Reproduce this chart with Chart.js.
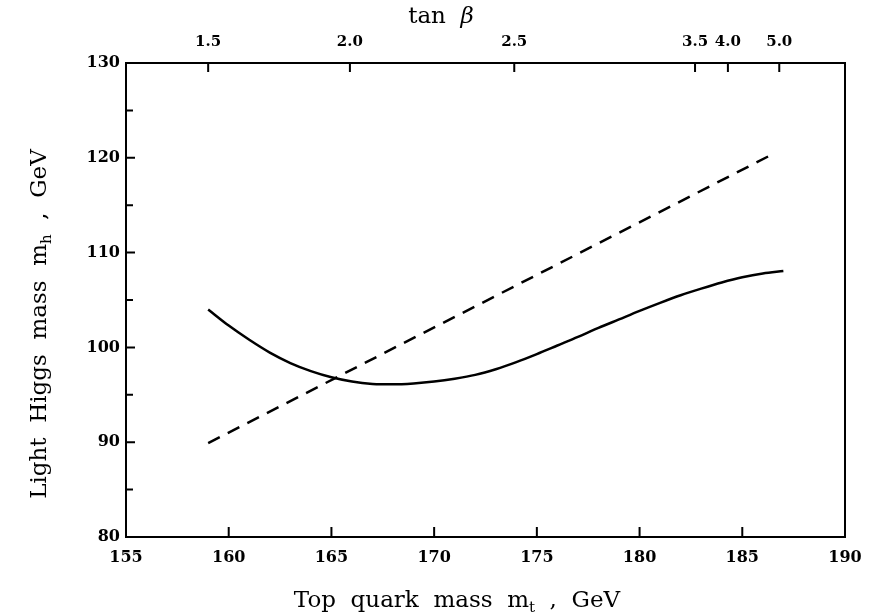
<!DOCTYPE html>
<html>
<head>
<meta charset="utf-8">
<script src="https://cdn.jsdelivr.net/npm/chart.js@4.4.0/dist/chart.umd.min.js"></script>
<style>
  body { margin: 0; background: #fff; }
  #wrap { width: 877px; height: 615px; }
</style>
</head>
<body>
<div id="wrap"><canvas id="higgsChart" width="877" height="615"></canvas></div>
<script>
// top quark mass (GeV) and light Higgs mass (GeV), solid curve
const mtSolid = [159, 160, 161, 162, 163, 164, 165, 166, 167, 168, 169, 170, 171, 172, 173,
                 174, 175, 176, 177, 178, 179, 180, 181, 182, 183, 184, 185, 186, 187];
const mhSolid = [104.0, 102.3, 100.8, 99.45, 98.35, 97.5, 96.85, 96.4, 96.15, 96.1, 96.2, 96.4, 96.7, 97.1, 97.7,
                 98.45, 99.3, 100.2, 101.1, 102.05, 102.95, 103.85, 104.7, 105.5, 106.2, 106.85, 107.4, 107.8, 108.05];
// dashed line
const mtDashed = [159, 186.4];
const mhDashed = [89.9, 120.3];
// tan beta scale on top, placed at the matching top mass
const tanBetaLabels = ['1.5', '2.0', '2.5', '3.5', '4.0', '5.0'];
const tanBetaAtMt = [159.0, 165.9, 173.9, 182.7, 184.3, 186.8];

const serif = '"DejaVu Serif", "Liberation Serif", serif';

// inward tick marks + frame box + axis titles
const frameTicks = {
    id: 'frameTicks',
    afterDraw(chart) {
        const c = chart.ctx;
        const a = chart.chartArea;
        const x = chart.scales.x, x2 = chart.scales.x2, y = chart.scales.y;
        c.save();
        c.strokeStyle = '#000';
        c.lineWidth = 2;
        c.strokeRect(a.left, a.top, a.right - a.left, a.bottom - a.top);
        c.beginPath();
        x.ticks.forEach(t => {
            if (t.value <= x.min || t.value >= x.max) return;
            const px = x.getPixelForValue(t.value);
            c.moveTo(px, a.bottom); c.lineTo(px, a.bottom - 10);
        });
        x2.ticks.forEach(t => {
            const px = x2.getPixelForValue(t.value);
            c.moveTo(px, a.top); c.lineTo(px, a.top + 9);
        });
        y.ticks.forEach(t => {
            if (t.value <= y.min || t.value >= y.max) return;
            const py = y.getPixelForValue(t.value);
            const len = t.value % 10 === 0 ? 9 : 7;
            c.moveTo(a.left, py); c.lineTo(a.left + len, py);
        });
        c.stroke();

        c.fillStyle = '#000';
        // tan beta title
        drawParts(c, [['tan  ', '23px ' + serif, 0], ['β', 'italic 23px ' + serif, 0]], 441, 17);
        drawParts(c, [['Top  quark  mass  m', '23px ' + serif, 0], ['t', '15px ' + serif, 7], ['  ,  GeV', '23px ' + serif, 0]], 457, 601);
        c.translate(40, 324);
        c.rotate(-Math.PI / 2);
        drawParts(c, [['Light  Higgs  mass  m', '23px ' + serif, 0], ['h', '15px ' + serif, 7], ['  ,  GeV', '23px ' + serif, 0]], 0, 0);
        c.restore();
    }
};

// draw text pieces centred at cx, each with its own font and vertical shift
function drawParts(c, parts, cx, cy) {
    let w = 0;
    parts.forEach(p => { c.font = p[1]; w += c.measureText(p[0]).width; });
    let x = cx - w / 2;
    c.textBaseline = 'middle';
    c.textAlign = 'left';
    parts.forEach(p => {
        c.font = p[1];
        c.fillText(p[0], x, cy + p[2]);
        x += c.measureText(p[0]).width;
    });
}

new Chart(document.getElementById('higgsChart'), {
    type: 'line',
    data: {
        datasets: [{
            data: mtSolid.map((v, i) => ({ x: v, y: mhSolid[i] })),
            borderColor: '#000',
            borderWidth: 2.5,
            pointRadius: 0,
            cubicInterpolationMode: 'monotone',
            fill: false
        }, {
            data: mtDashed.map((v, i) => ({ x: v, y: mhDashed[i] })),
            borderColor: '#000',
            borderWidth: 2.5,
            borderDash: [13, 9],
            pointRadius: 0,
            fill: false
        }]
    },
    options: {
        responsive: false,
        animation: false,
        devicePixelRatio: 1,
        layout: { padding: { right: 32 } },
        plugins: { legend: { display: false }, tooltip: { enabled: false } },
        scales: {
            x: {
                type: 'linear', position: 'bottom', min: 155, max: 190,
                grid: { display: false, drawTicks: false },
                border: { display: false },
                ticks: { stepSize: 5, color: '#000', padding: 11, maxRotation: 0, font: { family: serif, size: 16, weight: 'bold' } },
                afterFit(s) { s.height = 78; }
            },
            x2: {
                type: 'linear', position: 'top', min: 155, max: 190,
                grid: { display: false, drawTicks: false },
                border: { display: false },
                afterBuildTicks(s) { s.ticks = tanBetaAtMt.map(v => ({ value: v })); },
                ticks: {
                    autoSkip: false, maxRotation: 0, color: '#000', padding: 12,
                    font: { family: serif, size: 15, weight: 'bold' },
                    callback: v => tanBetaLabels[tanBetaAtMt.indexOf(v)]
                },
                afterFit(s) { s.height = 63; }
            },
            y: {
                type: 'linear', min: 80, max: 130,
                grid: { display: false, drawTicks: false },
                border: { display: false },
                ticks: {
                    stepSize: 5, color: '#000', padding: 6,
                    font: { family: serif, size: 16, weight: 'bold' },
                    callback: v => (v % 10 === 0 ? v : '')
                },
                afterFit(s) { s.width = 126; }
            }
        }
    },
    plugins: [frameTicks]
});
</script>
</body>
</html>
